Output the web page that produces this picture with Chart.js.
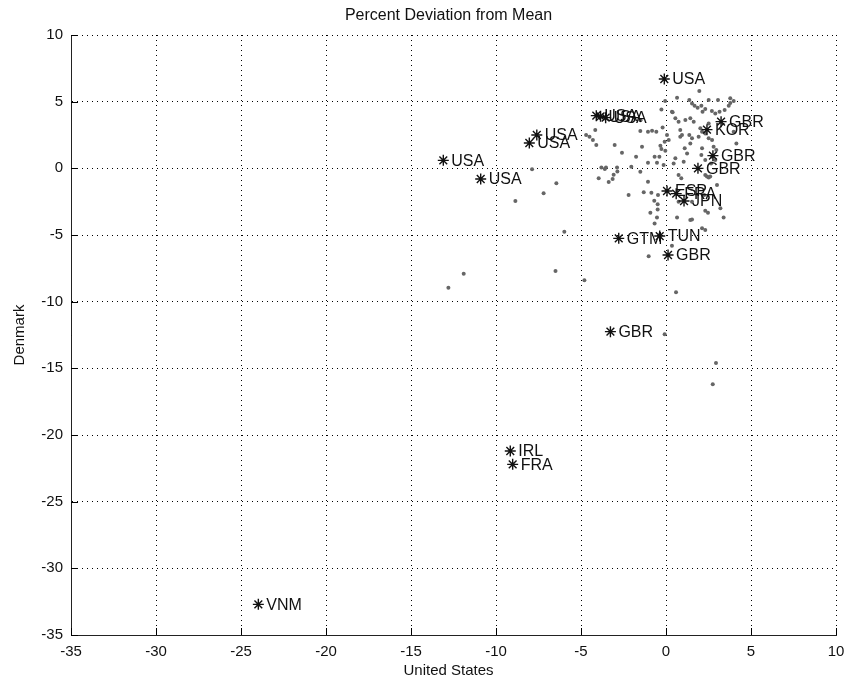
<!DOCTYPE html>
<html>
<head>
<meta charset="utf-8">
<script src="https://cdn.jsdelivr.net/npm/chart.js@4.4.1/dist/chart.umd.min.js"></script>
<style>
  html, body { margin: 0; padding: 0; background: #fff; }
  #wrap { width: 844px; height: 682px; }
</style>
</head>
<body>
<div id="wrap"><canvas id="devChart" width="844" height="682"></canvas></div>
<script>
// grey dots: all country pairs
const dotX = [
  -12.8, -11.9, -6.5, -4.8, -1.02, 0.35, 0.59, -0.08, 2.94, 2.75,
  -7.88, -6.45, -7.2, -8.86, -5.98,
  -0.05, -0.27, 0.39, -0.2, -1.5, -1.06, -0.82, -0.57, -1.51, -4.16, -4.7, -4.5, -4.3, -4.1,
  -3.02, -2.59, -1.41, -1.76, -0.33, -0.27, -0.08, -0.04, -0.67, -0.39, -1.06, -0.53,
  1.96, 0.65, 1.37, 1.53, 1.68, 1.86, 2.08, 2.51, 3.06, 3.78, 3.98, 3.69, 3.45, 3.15, 2.9, 2.7,
  2.31, 2.15, 0.35, 0.55, 0.74, 1.14, 1.43, 1.63, 2.51, 2.02, 2.12, 2.31, 0.84, 0.94, 0.84,
  1.37, 1.53, 1.43, 1.92, 2.51, 2.71, 0.06, 0.16, 1.1, 1.24, 2.12, 2.08, 2.31, 2.71, 0.55, 0.45, 1.04,
  4.14, 3.98, 3.78, 2.8, 2.96, 2.9, 2.65,
  -3.8, -3.6, -3.53, -3.96, -3.37, -3.14, -3.08, -2.86, -2.88, -2.04, -1.51, -0.14, -1.06,
  -2.2, -1.31, -0.86, -0.47, -0.69, -0.49, -0.49, -0.92, -0.53, -0.67,
  0.74, 0.9, 2.31, 2.51, 3.0, 0.74, 1.53, 2.31, 2.47, 3.2, 0.65, 1.53, 3.39, 2.12, 2.31,
  2.25, 2.6, 2.41, 1.43
];
const dotY = [
  -8.95, -7.9, -7.7, -8.4, -6.6, -5.8, -9.3, -12.45, -14.6, -16.2,
  -0.07, -1.12, -1.87, -2.45, -4.75,
  5.05, 4.42, 4.2, 3.07, 3.6, 2.75, 2.82, 2.75, 2.8, 2.87, 2.5, 2.37, 2.12, 1.75,
  1.75, 1.17, 1.62, 0.87, 1.7, 1.45, 2.0, 1.32, 0.87, 0.87, 0.42, 0.42,
  5.8, 5.3, 5.12, 4.87, 4.7, 4.55, 4.7, 5.12, 5.12, 5.25, 5.05, 4.7, 4.37, 4.25, 4.12, 4.3,
  4.45, 4.25, 4.25, 3.75, 3.5, 3.62, 3.75, 3.5, 3.37, 3.0, 2.75, 2.62, 2.87, 2.5, 2.37,
  2.5, 2.25, 1.87, 2.37, 2.25, 2.12, 2.5, 2.12, 1.5, 1.12, 1.5, 1.0, 0.62, 0.87, 0.75, 0.37, 0.5,
  1.87, 2.75, 4.9, 1.62, 1.37, 0.62, 0.37,
  0.07, -0.05, 0.07, -0.75, -1.03, -0.8, -0.48, -0.23, 0.07, 0.12, -0.25, 0.25, -1.0,
  -2.0, -1.8, -1.83, -2.0, -2.43, -2.7, -3.08, -3.33, -3.68, -4.13,
  -0.5, -0.75, -0.5, -0.68, -1.25, -2.5, -2.5, -3.18, -3.33, -3.0, -3.68, -3.83, -3.68, -4.5, -4.63,
  -2.0, -0.62, -0.62, -3.87
];

// labelled countries (asterisks)
const starLabels = ['USA', 'USA', 'USA', 'USA', 'USA', 'USA', 'USA', 'USA', 'GBR', 'KOR', 'GBR', 'GBR',
  'ESP', 'FRA', 'JPN', 'GTM', 'TUN', 'GBR', 'GBR', 'IRL', 'FRA', 'VNM'];
const starX = [-0.1, -4.1, -3.85, -3.55, -7.6, -8.04, -13.1, -10.9, 3.24, 2.41, 2.76, 1.88,
  0.06, 0.6, 1.06, -2.78, -0.37, 0.12, -3.27, -9.16, -9.02, -23.98];
const starY = [6.7, 3.95, 3.9, 3.8, 2.5, 1.9, 0.6, -0.8, 3.5, 2.9, 0.95, 0.0,
  -1.7, -1.9, -2.45, -5.25, -5.08, -6.5, -12.25, -21.2, -22.2, -32.7];

const tickValues = [-35, -30, -25, -20, -15, -10, -5, 0, 5, 10];

const chartTitle = 'Percent Deviation from Mean';
const xTitle = 'United States';
const yTitle = 'Denmark';

const FONT = '"Liberation Sans", Arial, sans-serif';

const extras = {
  id: 'extras',
  afterDatasetsDraw(chart) {
    const { ctx, chartArea: a } = chart;
    const sx = chart.scales.x, sy = chart.scales.y;
    ctx.save();
    // inward tick marks on left and bottom
    ctx.strokeStyle = '#000';
    ctx.lineWidth = 1;
    tickValues.forEach(v => {
      const px = Math.round(sx.getPixelForValue(v)) + 0.5;
      ctx.beginPath(); ctx.moveTo(px, a.bottom); ctx.lineTo(px, a.bottom - 7); ctx.stroke();
      const py = Math.round(sy.getPixelForValue(v)) + 0.5;
      ctx.beginPath(); ctx.moveTo(a.left, py); ctx.lineTo(a.left + 7, py); ctx.stroke();
    });
    // country labels next to the asterisks
    ctx.font = '16px ' + FONT;
    ctx.fillStyle = '#111';
    ctx.textAlign = 'left';
    ctx.textBaseline = 'middle';
    starLabels.forEach((t, i) => {
      ctx.fillText(t, sx.getPixelForValue(starX[i]) + 8, sy.getPixelForValue(starY[i]) + 1);
    });
    // titles
    const cx = (a.left + a.right) / 2;
    ctx.textAlign = 'center';
    ctx.font = '16px ' + FONT;
    ctx.fillText(chartTitle, cx - 5, 16);
    ctx.font = '15px ' + FONT;
    ctx.fillText(xTitle, cx - 5, 671);
    ctx.translate(20, (a.top + a.bottom) / 2);
    ctx.rotate(-Math.PI / 2);
    ctx.fillText(yTitle, 0, 0);
    ctx.restore();
  }
};

const axisOpts = (fit) => ({
  type: 'linear',
  min: -35,
  max: 10,
  afterFit: s => { fit(s); s.paddingLeft = 0; s.paddingRight = 0; s.paddingTop = 0; s.paddingBottom = 0; },
  afterBuildTicks: s => { s.ticks = tickValues.map(v => ({ value: v })); },
  ticks: { stepSize: 5, color: '#111', padding: 8, font: { size: 15, family: FONT } },
  grid: { color: '#000', lineWidth: 1, drawTicks: false },
  border: { display: true, color: '#222', width: 1, dash: [1, 4] }
});

new Chart(document.getElementById('devChart'), {
  type: 'scatter',
  data: {
    datasets: [
      {
        label: 'countries',
        data: dotX.map((v, i) => ({ x: v, y: dotY[i] })),
        pointStyle: 'circle',
        pointRadius: 2,
        pointBackgroundColor: '#666',
        pointBorderWidth: 0,
        order: 2
      },
      {
        label: 'labelled',
        data: starX.map((v, i) => ({ x: v, y: starY[i] })),
        pointStyle: 'star',
        pointRadius: 5.5,
        pointBorderColor: '#111',
        pointBorderWidth: 1.4,
        order: 1
      }
    ]
  },
  options: {
    responsive: false,
    animation: false,
    layout: { padding: { top: 35, right: 8, left: 0, bottom: 0 } },
    plugins: {
      legend: { display: false },
      title: { display: false },
      tooltip: { enabled: false }
    },
    scales: {
      x: axisOpts(s => { s.height = 47; }),
      y: axisOpts(s => { s.width = 71; })
    }
  },
  plugins: [extras]
});
</script>
</body>
</html>
